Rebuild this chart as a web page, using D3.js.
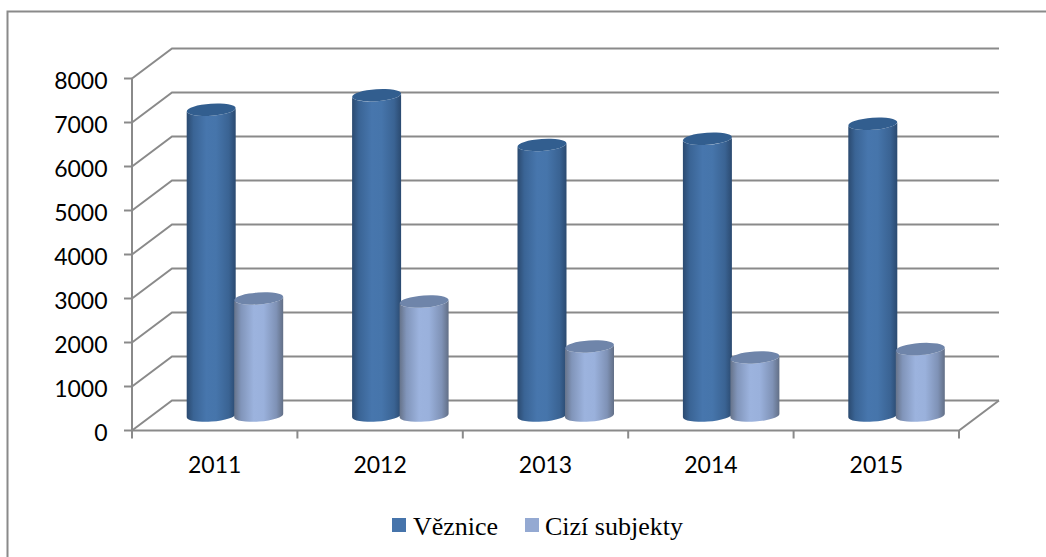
<!DOCTYPE html>
<html>
<head>
<meta charset="utf-8">
<script src="https://cdn.jsdelivr.net/npm/d3@7"></script>
<style>
    html, body { margin: 0; padding: 0; background: #fff; }
    svg { display: block; }
    .grid { stroke: #8a8a8a; stroke-width: 2; fill: none; }
    .tick-label { font-family: Lato, sans-serif; font-size: 23px; fill: #000; }
    .legend-label { font-family: "Liberation Serif", serif; font-size: 26px; fill: #000; }
</style>
</head>
<body>
<svg id="chart" width="1046" height="557"></svg>
<script>
var years = ['2011', '2012', '2013', '2014', '2015'];
var veznice = [6950, 7280, 6150, 6290, 6630];
var ciziSubjekty = [2660, 2590, 1570, 1320, 1510];
var seriesNames = ['Věznice', 'Cizí subjekty'];
var yTicks = [0, 1000, 2000, 3000, 4000, 5000, 6000, 7000, 8000];

var width = 1046,
    height = 557,
    depthX = 40,
    depthY = -30,
    barWidth = 49,
    rimHeight = 6,
    tilt = -4;

var svg = d3.select('#chart');

var x = d3.scaleBand().domain(years).range([132, 959]);
var y = d3.scaleLinear().domain([0, 8000]).range([430.5, 78.5]);

function addGradient(id, stops) {
    var g = svg.append('defs').append('linearGradient')
        .attr('id', id);
    stops.forEach(function(s) {
        g.append('stop').attr('offset', s[0] + '%').attr('stop-color', s[1]);
    });
}
addGradient('blue', [[0, '#2b4a70'], [14, '#3a6495'], [40, '#4776ad'], [60, '#4675ab'], [86, '#3a6393'], [100, '#2b4a70']]);
addGradient('light', [[0, '#66738a'], [14, '#8195ba'], [40, '#9cb3de'], [60, '#9ab1dc'], [86, '#7f92b6'], [100, '#626f86']]);

// chart frame, open on the right and at the bottom
svg.append('path')
    .attr('d', 'M7.5,' + height + 'V11.5H' + width)
    .attr('fill', 'none')
    .attr('stroke', '#8a8a8a')
    .attr('stroke-width', 2);

// back wall grid, with the diagonal down to the front axis
var grid = svg.append('g');
grid.selectAll('.grid-line')
    .data(yTicks)
    .enter().append('path')
    .attr('class', 'grid')
    .attr('d', function(d) {
        var fy = y(d);
        return 'M' + x.range()[0] + ',' + fy +
            'L' + (x.range()[0] + depthX) + ',' + (fy + depthY) +
            'H' + (x.range()[1] + depthX);
    });

// floor edges and front axis
grid.append('path')
    .attr('class', 'grid')
    .attr('d', 'M' + x.range()[0] + ',' + y(8000) + 'V' + y(0) + 'H' + x.range()[1] +
        'L' + (x.range()[1] + depthX) + ',' + (y(0) + depthY));

// y ticks
grid.selectAll('.y-tick')
    .data(yTicks)
    .enter().append('line')
    .attr('class', 'grid')
    .attr('x1', x.range()[0] - 8)
    .attr('x2', x.range()[0])
    .attr('y1', function(d) { return y(d); })
    .attr('y2', function(d) { return y(d); });

// x ticks
grid.selectAll('.x-tick')
    .data(d3.range(years.length + 1))
    .enter().append('line')
    .attr('class', 'grid')
    .attr('x1', function(i) { return x.range()[0] + i * x.step(); })
    .attr('x2', function(i) { return x.range()[0] + i * x.step(); })
    .attr('y1', y(0))
    .attr('y2', y(0) + 8);

svg.selectAll('.y-label')
    .data(yTicks)
    .enter().append('text')
    .attr('class', 'tick-label')
    .attr('text-anchor', 'end')
    .attr('x', 107.5)
    .attr('y', function(d) { return y(d) + 10; })
    .text(function(d) { return d; });

svg.selectAll('.x-label')
    .data(years)
    .enter().append('text')
    .attr('class', 'tick-label')
    .attr('text-anchor', 'middle')
    .attr('x', function(d) { return x(d) + x.bandwidth() / 2; })
    .attr('y', 473)
    .text(function(d) { return d; });

function cylinder(cx, top, bottom) {
    var l = cx - barWidth / 2,
        r = cx + barWidth / 2,
        slope = Math.tan(tilt * Math.PI / 180) * barWidth / 2,
        arc = 'A' + barWidth / 2 + ',' + rimHeight + ' ' + tilt + ' 0 ';
    return 'M' + l + ',' + (top - slope) +
        'L' + l + ',' + (bottom - slope) +
        arc + '0 ' + r + ',' + (bottom + slope) +
        'L' + r + ',' + (top + slope) +
        arc + '1 ' + l + ',' + (top - slope) + 'Z';
}

function ellipseTransform(cx, cy) {
    return 'translate(' + cx + ',' + cy + ') rotate(' + tilt + ')';
}

function drawBars(values, offset, fill, topFill) {
    var bars = svg.append('g').selectAll('g')
        .data(values)
        .enter().append('g');

    function centerX(i) {
        return x(years[i]) + x.bandwidth() / 2 + depthX / 2 + offset;
    }

    bars.append('path')
        .attr('fill', fill)
        .attr('d', function(d, i) {
            return cylinder(centerX(i), y(d) + depthY / 2, y(0) + depthY / 2);
        });
    bars.append('ellipse')
        .attr('rx', barWidth / 2)
        .attr('ry', rimHeight)
        .attr('fill', topFill)
        .attr('transform', function(d, i) {
            return ellipseTransform(centerX(i), y(d) + depthY / 2);
        });
}

drawBars(veznice, -23.5, 'url(#blue)', '#325e8f');
drawBars(ciziSubjekty, 24, 'url(#light)', '#6f85aa');

// legend
var legendX = [392, 525],
    legendText = [413, 545];
svg.selectAll('.legend-box')
    .data(seriesNames)
    .enter().append('rect')
    .attr('x', function(d, i) { return legendX[i]; })
    .attr('y', 518)
    .attr('width', 14)
    .attr('height', 14)
    .attr('fill', function(d, i) { return ['#4674ab', '#94a9d2'][i]; });

svg.selectAll('.legend-label')
    .data(seriesNames)
    .enter().append('text')
    .attr('class', 'legend-label')
    .attr('x', function(d, i) { return legendText[i]; })
    .attr('y', 535)
    .text(function(d) { return d; });
</script>
</body>
</html>
